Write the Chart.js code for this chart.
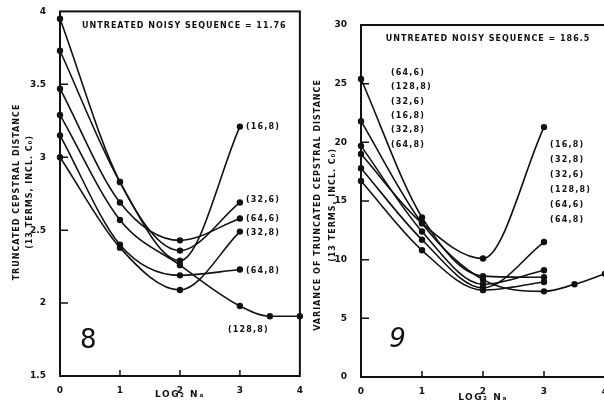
<!DOCTYPE html>
<html>
<head>
<meta charset="utf-8">
<script src="https://cdn.jsdelivr.net/npm/chart.js@4.4.1/dist/chart.umd.min.js"></script>
<style>
    html, body { margin: 0; padding: 0; background: #fff; width: 604px; height: 406px; overflow: hidden; }
    canvas { position: absolute; top: 0; }
    #fig8 { left: 0; }
    #fig9 { left: 304px; }
</style>
</head>
<body>
<canvas id="fig8" width="304" height="406"></canvas>
<canvas id="fig9" width="310" height="406"></canvas>
<script>
/**
 * Fig. 8 / Fig. 9: odleglosc cepstralna i jej wariancja w funkcji log2 Na.
 */

const LOG2_NA = [0, 1, 2, 3];
const LOG2_NA_LONG = [0, 1, 2, 3, 3.5, 4];
const SERIES_NAMES = ['(16,8)', '(32,6)', '(64,6)', '(32,8)', '(64,8)', '(128,8)'];

// fig. 8 - truncated cepstral distance
const DIST_16_8 = [3.73, 2.83, 2.29, 3.21];
const DIST_32_6 = [3.95, 2.83, 2.36, 2.69];
const DIST_64_6 = [3.47, 2.69, 2.43, 2.58];
const DIST_32_8 = [3.00, 2.38, 2.09, 2.49];
const DIST_64_8 = [3.15, 2.40, 2.19, 2.23];
const DIST_128_8 = [3.29, 2.57, 2.26, 1.98, 1.91, 1.91];

// fig. 9 - variance of truncated cepstral distance
const VAR_16_8 = [19.0, 13.1, 10.1, 21.3];
const VAR_32_6 = [19.7, 12.4, 7.9, 9.1];
const VAR_64_6 = [25.4, 13.6, 8.6, 8.5];
const VAR_32_8 = [17.8, 11.7, 7.6, 11.5];
const VAR_64_8 = [16.7, 10.8, 7.4, 8.1];
const VAR_128_8 = [21.8, 13.1, 8.3, 7.3, 7.9, 8.8];

const X_TICKS = [1, 2, 3];
const Y_TICKS_8 = [2, 2.5, 3, 3.5];
const Y_TICKS_9 = [5, 10, 15, 20, 25];

// kolejnosc etykiet w figurze 9 (tak jak w oryginale)
const FIG9_LIST_LEFT = ['(64,6)', '(128,8)', '(32,6)', '(16,8)', '(32,8)', '(64,8)'];
const FIG9_LIST_RIGHT = ['(16,8)', '(32,8)', '(32,6)', '(128,8)', '(64,6)', '(64,8)'];

const LABEL_FONT = 'bold 8px "DejaVu Sans"';

function toPoints(xs, ys) {
    return ys.map((v, i) => ({ x: xs[i], y: v }));
}

function makeDataset(name, xs, ys) {
    return {
        label: name,
        data: toPoints(xs, ys),
        borderColor: '#111',
        backgroundColor: '#111',
        borderWidth: 1.6,
        pointRadius: 2.4,
        pointHoverRadius: 2.4,
        cubicInterpolationMode: 'monotone',
        clip: false
    };
}

function drawText(ctx, text, x, y, align = 'left', spacing = '1px') {
    ctx.letterSpacing = spacing;
    ctx.textAlign = align;
    ctx.fillText(text, x, y);
}

const figureDecor = {
    id: 'figureDecor',
    afterDraw(chart, args, opts) {
        const { ctx, chartArea: a, scales: { x, y } } = chart;
        ctx.save();
        ctx.strokeStyle = '#111';
        ctx.fillStyle = '#111';
        ctx.lineWidth = 2;
        ctx.strokeRect(a.left, a.top, a.right - a.left, a.bottom - a.top);

        ctx.lineWidth = 1.5;
        ctx.beginPath();
        opts.yTicks.forEach(v => {
            const py = y.getPixelForValue(v);
            ctx.moveTo(a.left, py);
            ctx.lineTo(a.left + 8, py);
        });
        X_TICKS.forEach(v => {
            const px = x.getPixelForValue(v);
            ctx.moveTo(px, a.bottom);
            ctx.lineTo(px, a.bottom - 6);
        });
        ctx.stroke();

        ctx.font = LABEL_FONT;
        ctx.textBaseline = 'middle';

        // opis osi Y, dwie linie
        opts.yTitle.forEach(line => {
            ctx.save();
            ctx.translate(line.x, line.y);
            ctx.rotate(-Math.PI / 2);
            drawText(ctx, line.text, 0, 0, 'center', '1px');
            ctx.restore();
        });

        // opis osi X
        ctx.font = 'bold 9px "DejaVu Sans"';
        drawText(ctx, 'LOG₂ Nₐ', x.getPixelForValue(2), opts.xTitleY, 'center', '1.5px');

        ctx.font = LABEL_FONT;
        drawText(ctx, opts.header.text,
            x.getPixelForValue(opts.header.x), y.getPixelForValue(opts.header.y), 'right', '1px');

        (opts.labels || []).forEach(item => {
            drawText(ctx, item.text,
                x.getPixelForValue(item.x) + item.dx, y.getPixelForValue(item.y) + item.dy, 'left', '1.2px');
        });

        (opts.lists || []).forEach(list => {
            const px = x.getPixelForValue(list.x);
            const py = y.getPixelForValue(list.y);
            list.items.forEach((text, i) => drawText(ctx, text, px, py + i * list.step, 'left', '1.2px'));
        });

        ctx.font = opts.bigNumber.font;
        drawText(ctx, opts.bigNumber.text,
            x.getPixelForValue(opts.bigNumber.x), y.getPixelForValue(opts.bigNumber.y), 'center', '0px');
        ctx.restore();
    }
};

function makeScales(yMin, yMax, yStep, yWidth, xHeight) {
    const tickFont = { family: 'DejaVu Sans', size: 9, weight: 'bold' };
    return {
        x: {
            type: 'linear',
            min: 0,
            max: 4,
            afterFit: scale => { scale.height = xHeight; },
            grid: { display: false },
            border: { display: false },
            ticks: { stepSize: 1, color: '#111', font: tickFont, padding: 1, maxRotation: 0, autoSkip: false }
        },
        y: {
            min: yMin,
            max: yMax,
            afterFit: scale => { scale.width = yWidth; },
            grid: { display: false },
            border: { display: false },
            ticks: {
                stepSize: yStep,
                color: '#111',
                font: tickFont,
                padding: 6,
                callback: value => String(value)
            }
        }
    };
}

function renderFigure(canvasId, datasets, scales, padding, decor) {
    return new Chart(document.getElementById(canvasId), {
        type: 'line',
        data: { datasets },
        options: {
            responsive: false,
            animation: false,
            layout: { padding },
            plugins: {
                legend: { display: false },
                tooltip: { enabled: false },
                figureDecor: decor
            },
            scales
        },
        plugins: [figureDecor]
    });
}

renderFigure('fig8', [
    makeDataset(SERIES_NAMES[0], LOG2_NA, DIST_16_8),
    makeDataset(SERIES_NAMES[1], LOG2_NA, DIST_32_6),
    makeDataset(SERIES_NAMES[2], LOG2_NA, DIST_64_6),
    makeDataset(SERIES_NAMES[3], LOG2_NA, DIST_32_8),
    makeDataset(SERIES_NAMES[4], LOG2_NA, DIST_64_8),
    makeDataset(SERIES_NAMES[5], LOG2_NA_LONG, DIST_128_8)
], makeScales(1.5, 4, 0.5, 60, 30), { top: 10, right: 3, left: 0, bottom: 0 }, {
    yTicks: Y_TICKS_8,
    yTitle: [
        { text: 'TRUNCATED CEPSTRAL DISTANCE', x: 17, y: 192 },
        { text: '(13 TERMS, INCL. C₀)', x: 30, y: 192 }
    ],
    xTitleY: 395,
    header: { text: 'UNTREATED NOISY SEQUENCE = 11.76', x: 3.78, y: 3.9 },
    labels: [
        { text: SERIES_NAMES[0], x: 3, y: DIST_16_8[3], dx: 6, dy: 0 },
        { text: SERIES_NAMES[1], x: 3, y: DIST_32_6[3], dx: 6, dy: -3 },
        { text: SERIES_NAMES[2], x: 3, y: DIST_64_6[3], dx: 6, dy: 0 },
        { text: SERIES_NAMES[3], x: 3, y: DIST_32_8[3], dx: 6, dy: 1 },
        { text: SERIES_NAMES[4], x: 3, y: DIST_64_8[3], dx: 6, dy: 1 },
        { text: SERIES_NAMES[5], x: 3, y: DIST_128_8[3], dx: -12, dy: 24 }
    ],
    bigNumber: { text: '8', x: 0.47, y: 1.74, font: '26px "DejaVu Sans"' }
});

renderFigure('fig9', [
    makeDataset(SERIES_NAMES[0], LOG2_NA, VAR_16_8),
    makeDataset(SERIES_NAMES[1], LOG2_NA, VAR_32_6),
    makeDataset(SERIES_NAMES[2], LOG2_NA, VAR_64_6),
    makeDataset(SERIES_NAMES[3], LOG2_NA, VAR_32_8),
    makeDataset(SERIES_NAMES[4], LOG2_NA, VAR_64_8),
    makeDataset(SERIES_NAMES[5], LOG2_NA_LONG, VAR_128_8)
], makeScales(0, 30, 5, 57, 29), { top: 25, right: 9, left: 0, bottom: 0 }, {
    yTicks: Y_TICKS_9,
    yTitle: [
        { text: 'VARIANCE OF TRUNCATED CEPSTRAL DISTANCE', x: 14, y: 205 },
        { text: '(13 TERMS, INCL. C₀)', x: 29, y: 205 }
    ],
    xTitleY: 398,
    header: { text: 'UNTREATED NOISY SEQUENCE = 186.5', x: 3.76, y: 28.8 },
    lists: [
        { items: FIG9_LIST_LEFT, x: 0.49, y: 25.9, step: 14.3 },
        { items: FIG9_LIST_RIGHT, x: 3.1, y: 19.8, step: 15 }
    ],
    bigNumber: { text: '9', x: 0.6, y: 3.1, font: 'italic 26px "DejaVu Sans"' }
});
</script>
</body>
</html>
